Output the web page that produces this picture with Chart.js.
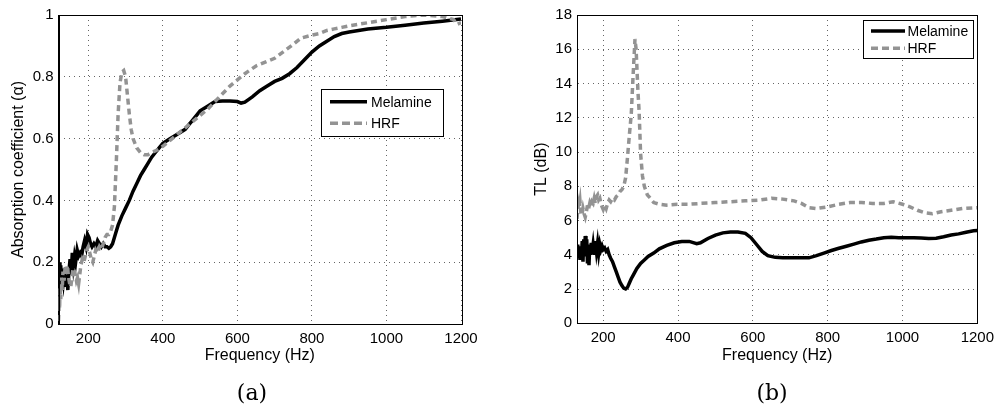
<!DOCTYPE html>
<html>
<head>
<meta charset="utf-8">
<script src="https://cdn.jsdelivr.net/npm/chart.js@4/dist/chart.umd.min.js"></script>
<style>
  html, body { margin: 0; padding: 0; background: #fff; }
  body { width: 1000px; height: 409px; position: relative; overflow: hidden; }
  .panel { position: absolute; top: 0; width: 500px; height: 409px; }
  .cap { position: absolute; font-family: 'DejaVu Serif', 'Liberation Serif', serif; font-size: 22px; color: #000; transform: translate(-50%, -50%); white-space: nowrap; }
</style>
</head>
<body>
<div class="panel" style="left:0"><canvas id="ca" width="500" height="409"></canvas></div>
<div class="panel" style="left:500px"><canvas id="cb" width="500" height="409"></canvas></div>
<div class="cap" style="left:252px; top:392px">(a)</div>
<div class="cap" style="left:772px; top:392px">(b)</div>
<script>
// ---------- DATA ----------
const seriesNames = ['Melamine', 'HRF'];

// (a) absorption coefficient
const freqMelA = [120,122,124,126,128,130,133,136,139,142,145,148,151,154,157,160,163,166,170,174,178,182,186,190,194,198,202,206,210,215,220,225,230,235,240,245,250,255,260,265,270,275,280,290,300,310,320,330,340,350,360,370,380,390,400,420,440,460,470,480,500,520,540,560,580,600,610,620,640,660,680,700,720,740,760,780,800,820,840,860,880,900,950,1000,1050,1100,1150,1200];
const alphaMel = [0.15,0.20,0.13,0.19,0.12,0.17,0.14,0.18,0.12,0.16,0.11,0.17,0.21,0.16,0.23,0.19,0.22,0.20,0.24,0.22,0.23,0.22,0.25,0.27,0.25,0.29,0.28,0.26,0.25,0.26,0.25,0.27,0.26,0.25,0.26,0.25,0.25,0.245,0.25,0.26,0.28,0.30,0.32,0.35,0.375,0.40,0.43,0.455,0.48,0.50,0.52,0.54,0.555,0.57,0.585,0.60,0.615,0.63,0.645,0.66,0.69,0.705,0.72,0.722,0.722,0.72,0.715,0.718,0.735,0.755,0.77,0.785,0.795,0.81,0.83,0.855,0.88,0.90,0.915,0.93,0.94,0.945,0.955,0.96,0.967,0.974,0.98,0.987];

const freqHrfA = [120,121,122,123,124,126,128,130,132,135,138,141,144,147,150,153,156,159,162,165,168,171,174,177,180,184,188,192,196,200,204,208,212,216,220,225,230,235,240,245,250,255,260,265,270,275,280,285,290,295,300,305,310,315,320,330,340,350,360,370,380,400,420,440,460,480,500,520,540,560,580,600,620,650,700,750,770,800,820,840,860,880,900,950,1000,1050,1100,1150,1180,1190,1200];
const alphaHrf = [0.01,0.04,0.09,0.05,0.12,0.08,0.15,0.11,0.17,0.14,0.19,0.16,0.19,0.15,0.13,0.12,0.15,0.18,0.17,0.16,0.14,0.15,0.13,0.16,0.19,0.21,0.20,0.22,0.24,0.25,0.23,0.21,0.20,0.22,0.24,0.23,0.25,0.24,0.26,0.28,0.29,0.29,0.30,0.32,0.38,0.52,0.68,0.78,0.815,0.82,0.80,0.74,0.68,0.63,0.60,0.57,0.555,0.548,0.548,0.555,0.56,0.575,0.595,0.615,0.635,0.655,0.675,0.695,0.72,0.745,0.77,0.79,0.81,0.835,0.86,0.905,0.925,0.935,0.94,0.95,0.955,0.96,0.965,0.975,0.985,0.995,1.0,0.995,0.985,0.97,0.975];

// (b) transmission loss
const freqMelB = [130,132,134,136,138,140,142,144,146,148,150,152,154,156,158,160,162,164,166,168,170,173,176,179,182,185,188,191,194,197,200,204,208,212,216,220,225,230,235,240,245,250,255,260,265,270,275,280,290,300,310,320,335,350,370,390,410,430,450,460,480,500,520,540,560,580,595,610,625,640,660,680,700,720,750,770,790,810,830,850,870,890,910,930,950,970,990,1010,1030,1050,1070,1090,1110,1130,1150,1170,1190,1200];
const tlMel = [4.2,4.6,3.8,4.4,3.7,4.5,4.0,4.8,3.6,4.9,3.9,5.1,4.2,4.9,3.5,4.6,3.4,4.5,4.0,4.7,4.1,4.6,4.0,4.8,4.2,4.7,4.1,4.6,4.3,4.5,4.3,4.4,4.2,4.3,4.0,3.8,3.6,3.3,3.0,2.7,2.4,2.2,2.05,2.0,2.1,2.35,2.6,2.8,3.2,3.5,3.7,3.9,4.1,4.35,4.55,4.7,4.78,4.78,4.65,4.7,4.95,5.15,5.28,5.33,5.33,5.25,5.0,4.6,4.2,3.95,3.85,3.83,3.82,3.82,3.82,3.95,4.1,4.25,4.38,4.5,4.62,4.75,4.85,4.92,5.0,5.02,5.0,5.0,5.0,4.98,4.95,4.97,5.05,5.15,5.22,5.32,5.4,5.42];

const freqHrfB = [130,132,134,136,138,140,143,146,149,152,155,158,161,164,167,170,173,176,179,182,185,188,191,194,197,200,204,208,212,216,220,225,230,235,240,245,250,255,260,265,270,275,280,285,288,290,293,296,300,305,310,318,326,335,350,370,400,430,460,500,540,580,620,650,680,710,730,750,770,800,830,860,890,920,950,975,1000,1020,1040,1060,1080,1100,1130,1160,1200];
const tlHrf = [6.1,6.6,7.0,6.8,7.1,6.5,6.3,6.7,6.4,6.2,6.5,6.9,6.7,7.0,6.8,7.1,7.0,7.3,7.0,7.4,7.5,7.2,7.3,7.0,6.8,6.65,6.9,6.7,7.0,7.2,7.1,7.3,7.2,7.4,7.5,7.7,7.8,8.0,8.5,9.7,11.0,12.2,14.5,16.6,16.0,15.0,13.5,12.4,9.9,8.6,8.0,7.5,7.3,7.05,6.95,6.9,6.95,6.95,7.0,7.05,7.1,7.15,7.2,7.3,7.25,7.15,7.0,6.75,6.7,6.8,6.95,7.05,7.05,7.0,7.0,7.1,6.95,6.8,6.6,6.45,6.4,6.5,6.6,6.7,6.75];

// tick labels
const xTicksHz = [200, 400, 600, 800, 1000, 1200];
const yTicksAlpha = [0, 0.2, 0.4, 0.6, 0.8, 1];
const yTicksTL = [0, 2, 4, 6, 8, 10, 12, 14, 16, 18];

// ---------- HELPERS ----------
const zip = (xs, ys) => xs.map((x, i) => ({ x: x, y: ys[i] }));
const FONT = "'Liberation Sans', Arial, Helvetica, sans-serif";

const boxPlugin = {
  id: 'box',
  afterDraw(chart) {
    const a = chart.chartArea, ctx = chart.ctx;
    ctx.save();
    ctx.strokeStyle = '#000';
    ctx.lineWidth = 1;
    ctx.strokeRect(Math.round(a.left) + 0.5, Math.round(a.top) + 0.5, Math.round(a.right - a.left), Math.round(a.bottom - a.top));
    ctx.restore();
  }
};

const innerLegend = {
  id: 'innerLegend',
  afterDraw(chart, args, opts) {
    const ctx = chart.ctx;
    const [bx, by, bw, bh] = opts.box;
    ctx.save();
    ctx.fillStyle = '#fff';
    ctx.fillRect(bx, by, bw, bh);
    ctx.strokeStyle = '#000';
    ctx.lineWidth = 1;
    ctx.strokeRect(Math.round(bx) + 0.5, Math.round(by) + 0.5, Math.round(bw), Math.round(bh));
    ctx.font = '14px ' + FONT;
    ctx.textBaseline = 'middle';
    ctx.textAlign = 'left';
    chart.data.datasets.forEach((ds, i) => {
      const y = opts.rows[i];
      ctx.beginPath();
      ctx.strokeStyle = ds.borderColor;
      ctx.lineWidth = ds.borderWidth;
      ctx.setLineDash(opts.dash[i]);
      ctx.moveTo(opts.line[0], y);
      ctx.lineTo(opts.line[1], y);
      ctx.stroke();
      ctx.setLineDash([]);
      ctx.fillStyle = '#000';
      ctx.fillText(ds.label, opts.textX, y + 1);
    });
    ctx.restore();
  }
};

function makeChart(id, cfg) {
  const grid = { color: '#666', lineWidth: 1, drawTicks: false };
  const border = { display: true, color: '#000', width: 1, dash: [1, 4] };
  return new Chart(document.getElementById(id), {
    type: 'line',
    data: {
      datasets: [
        { label: seriesNames[0], data: cfg.mel, borderColor: '#000', borderWidth: 3.5, pointRadius: 0, tension: 0, fill: false, order: 1 },
        { label: seriesNames[1], data: cfg.hrf, borderColor: '#939393', borderWidth: 3.5, borderDash: [6, 4], pointRadius: 0, tension: 0, fill: false, order: 0 }
      ]
    },
    options: {
      responsive: false,
      animation: false,
      events: [],
      layout: { padding: { top: cfg.padTop, right: cfg.padRight, left: 0, bottom: 0 } },
      plugins: {
        legend: { display: false },
        tooltip: { enabled: false },
        innerLegend: cfg.legend
      },
      scales: {
        x: {
          type: 'linear',
          min: cfg.xmin, max: 1200,
          afterBuildTicks: s => { s.ticks = xTicksHz.map(v => ({ value: v })); },
          afterFit: s => { s.height = cfg.xHeight; },
          ticks: { color: '#000', font: { family: FONT, size: 15 }, padding: 6, maxRotation: 0, callback: v => String(v) },
          grid: grid,
          border: border,
          title: { display: true, text: 'Frequency (Hz)', color: '#000', font: { family: FONT, size: 16 }, padding: { top: 0, bottom: 44 } }
        },
        y: {
          type: 'linear',
          min: cfg.ymin, max: cfg.ymax,
          afterBuildTicks: s => { s.ticks = cfg.yTicks.map(v => ({ value: v })); },
          afterFit: s => { s.width = cfg.yWidth; },
          ticks: { color: '#000', font: { family: FONT, size: 15 }, padding: 5, callback: v => String(v) },
          grid: grid,
          border: border,
          title: { display: true, text: cfg.yTitle, color: '#000', font: { family: FONT, size: 16 }, padding: { top: cfg.yTitlePad, bottom: 0 } }
        }
      }
    },
    plugins: [boxPlugin, innerLegend]
  });
}

makeChart('ca', {
  mel: zip(freqMelA, alphaMel),
  hrf: zip(freqHrfA, alphaHrf),
  xmin: 120, ymin: 0, ymax: 1,
  yTicks: yTicksAlpha,
  yTitle: 'Absorption coefficient (\u03B1)',
  padTop: 15, padRight: 39, xHeight: 85, yWidth: 58.5, yTitlePad: 9,
  legend: { box: [321, 89, 122, 47], rows: [101.7, 123.3], line: [330, 367], textX: 371, dash: [[], [8, 4]] }
});

makeChart('cb', {
  mel: zip(freqMelB, tlMel),
  hrf: zip(freqHrfB, tlHrf),
  xmin: 130, ymin: 0, ymax: 18,
  yTicks: yTicksTL,
  yTitle: 'TL (dB)',
  padTop: 15, padRight: 21, xHeight: 85.7, yWidth: 77, yTitlePad: 32,
  legend: { box: [363, 20, 110, 38], rows: [31, 48.3], line: [371, 405], textX: 407.5, dash: [[], [7, 4]] }
});
</script>
</body>
</html>
